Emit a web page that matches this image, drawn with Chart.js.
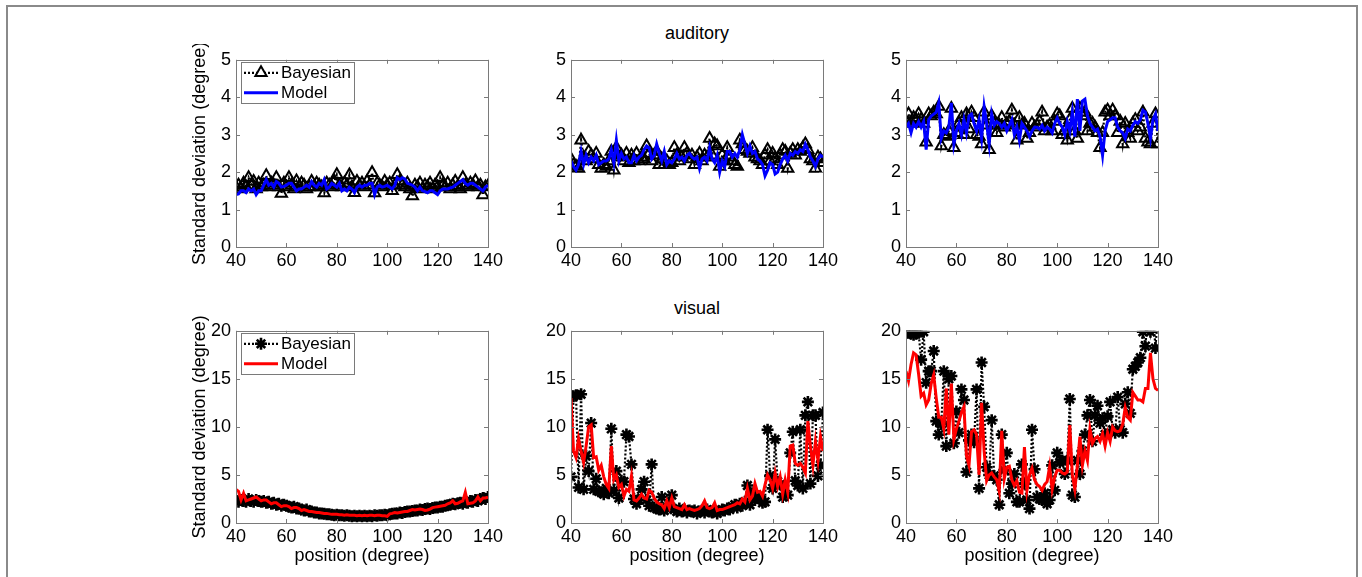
<!DOCTYPE html>
<html>
<head>
<meta charset="utf-8">
<script src="https://cdn.jsdelivr.net/npm/chart.js@4.4.1/dist/chart.umd.min.js"></script>
<style>
  body { margin: 0; width: 1362px; height: 577px; background: #fff; position: relative; overflow: hidden;
         font-family: "Liberation Sans", Arial, sans-serif; }
  #frame { position: absolute; left: 6px; top: 5px; width: 1348px; height: 590px; border: 2px solid #8a8a8a; border-bottom: none; }
  .panel { position: absolute; }
  .title { position: absolute; width: 252px; text-align: center; font-size: 18px; line-height: 20px; color: #000; }
</style>
</head>
<body>
<div id="frame"></div>
<div class="title" style="left:571px; top:23px;">auditory</div>
<div class="title" style="left:571px; top:298px;">visual</div>
<canvas id="c1" class="panel"></canvas>
<canvas id="c2" class="panel"></canvas>
<canvas id="c3" class="panel"></canvas>
<canvas id="c4" class="panel"></canvas>
<canvas id="c5" class="panel"></canvas>
<canvas id="c6" class="panel"></canvas>
<script>
// ==================== Data ====================
const positions = [40,41,42,43,44,45,46,47,48,49,50,51,52,53,54,55,56,57,58,59,
  60,61,62,63,64,65,66,67,68,69,70,71,72,73,74,75,76,77,78,79,
  80,81,82,83,84,85,86,87,88,89,90,91,92,93,94,95,96,97,98,99,
  100,101,102,103,104,105,106,107,108,109,110,111,112,113,114,115,116,117,118,119,
  120,121,122,123,124,125,126,127,128,129,130,131,132,133,134,135,136,137,138,139,140];

const xTicks = [40, 60, 80, 100, 120, 140];
const audTicks = [0, 1, 2, 3, 4, 5];
const visTicks = [0, 5, 10, 15, 20];

// auditory, panel 1
const audBayes1 = [1.60,1.65,1.55,1.70,1.60,1.85,1.65,1.75,1.55,1.70,
  1.60,1.65,1.90,1.60,1.70,1.65,1.85,1.60,1.43,1.70,
  1.60,1.85,1.65,1.55,1.76,1.60,1.70,1.65,1.55,1.60,
  1.75,1.60,1.70,1.65,1.60,1.44,1.70,1.65,1.60,1.75,
  1.93,1.65,1.60,1.70,1.65,1.92,1.60,1.45,1.75,1.65,
  1.70,1.60,1.75,1.65,1.98,1.44,1.70,1.65,1.60,1.75,
  1.65,1.70,1.50,1.65,1.93,1.75,1.65,1.60,1.70,1.55,
  1.36,1.65,1.60,1.70,1.55,1.65,1.60,1.70,1.55,1.65,
  1.60,1.85,1.65,1.60,1.70,1.55,1.65,1.75,1.60,1.55,
  1.85,1.65,1.60,1.70,1.65,1.76,1.60,1.65,1.39,1.60,1.63];
const audModel1 = [1.40,1.42,1.50,1.50,1.45,1.55,1.50,1.55,1.40,1.50,
  1.50,1.65,1.80,1.65,1.70,1.60,1.75,1.70,1.60,1.62,
  1.65,1.70,1.70,1.60,1.50,1.55,1.55,1.60,1.65,1.60,
  1.75,1.65,1.60,1.70,1.65,1.80,1.55,1.60,1.70,1.65,
  1.60,1.70,1.50,1.55,1.50,1.60,1.55,1.45,1.60,1.65,
  1.60,1.65,1.65,1.70,1.70,1.40,1.60,1.65,1.60,1.62,
  1.65,1.60,1.55,1.65,1.85,1.80,1.85,1.82,1.70,1.68,
  1.65,1.60,1.50,1.60,1.50,1.48,1.45,1.50,1.50,1.45,
  1.40,1.50,1.55,1.55,1.55,1.58,1.60,1.65,1.70,1.75,
  1.80,1.70,1.65,1.70,1.70,1.65,1.60,1.55,1.50,1.60,1.65];

// auditory, panel 2
const audBayes2 = [2.35,2.20,2.15,2.10,2.85,2.40,2.30,2.55,2.45,2.35,
  2.50,2.20,2.10,2.20,2.15,2.30,2.55,2.05,2.65,2.40,
  2.45,2.30,2.50,2.25,2.45,2.30,2.50,2.30,2.40,2.35,
  2.70,2.50,2.30,2.45,2.55,2.20,2.35,2.20,2.30,2.20,
  2.25,2.65,2.45,2.30,2.40,2.65,2.50,2.35,2.45,2.20,
  2.40,2.50,2.30,2.45,2.40,2.90,2.45,2.75,2.70,2.15,
  2.45,2.30,2.65,2.40,2.30,2.20,2.15,2.85,2.75,2.60,
  2.55,2.50,2.65,2.40,2.35,2.30,2.20,2.45,2.60,2.30,
  2.50,2.35,2.20,2.45,2.60,2.55,2.10,2.50,2.60,2.45,
  2.60,2.55,2.65,2.75,2.60,2.35,2.30,2.10,2.40,2.35,2.25];
const audModel2 = [2.30,2.15,2.05,2.20,2.55,2.20,2.45,2.25,2.40,2.30,
  2.45,2.20,2.25,2.30,2.30,2.35,2.60,2.25,2.85,2.30,
  2.50,2.35,2.40,2.25,2.25,2.45,2.30,2.40,2.45,2.60,
  2.70,2.65,2.35,2.45,2.75,2.50,2.30,2.55,2.20,2.30,
  2.25,2.35,2.50,2.35,2.40,2.30,2.45,2.50,2.40,2.35,
  2.40,2.10,2.35,2.40,2.30,2.65,2.35,2.25,2.45,2.00,
  2.30,2.15,2.55,2.55,2.40,2.50,2.40,2.60,3.00,2.75,
  2.50,2.70,2.50,2.55,2.35,2.30,2.20,1.90,2.05,2.25,
  2.20,1.95,2.00,2.20,2.35,2.45,2.30,2.50,2.45,2.55,
  2.50,2.60,2.55,2.75,2.60,2.40,2.30,2.15,2.35,2.45,2.40];

// auditory, panel 3
const audBayes3 = [3.35,3.55,3.30,3.45,3.40,3.55,3.40,3.30,2.80,3.55,
  3.50,3.60,3.55,3.75,2.70,3.00,2.95,3.10,3.70,2.65,
  3.05,3.30,3.45,3.00,3.55,3.15,3.60,3.45,3.00,2.95,
  2.75,3.60,3.25,2.60,3.50,3.30,3.05,3.25,3.45,3.20,
  3.30,3.35,3.65,3.25,2.85,3.45,3.25,3.30,2.90,3.05,
  3.30,3.20,3.25,3.35,3.60,3.10,3.20,3.25,3.10,3.35,
  3.55,3.50,3.00,3.10,2.85,3.40,3.70,3.10,2.90,3.70,
  3.50,3.60,3.10,3.30,3.30,3.20,3.05,2.65,3.05,3.60,
  3.65,3.50,3.65,3.50,3.05,3.35,2.75,3.30,3.05,2.90,
  3.30,3.40,3.10,3.20,3.60,2.90,2.80,2.75,3.30,3.55,2.75];
const audModel3 = [3.20,3.30,3.05,3.30,3.20,3.35,3.20,3.35,2.60,3.40,
  3.50,3.55,3.60,3.85,2.90,3.10,3.05,3.20,3.85,2.75,
  3.10,3.30,3.00,3.40,3.05,3.50,3.55,3.30,3.10,3.40,
  2.90,3.75,3.30,2.75,3.55,3.25,3.35,3.30,3.20,3.30,
  3.10,3.25,3.40,3.00,3.20,2.85,3.30,3.20,3.10,2.95,
  3.10,3.20,3.20,3.15,3.25,3.10,3.20,3.15,3.05,3.30,
  3.45,3.30,3.20,3.00,3.35,3.10,3.60,2.95,3.95,3.10,
  3.90,3.95,3.50,3.30,3.20,3.10,3.15,2.95,2.45,3.10,
  3.35,3.40,3.45,3.45,3.20,3.10,3.05,2.90,3.15,3.10,
  3.25,3.35,3.30,3.40,3.65,3.60,3.30,2.90,3.40,3.55,3.10];

// visual, panel 4
const visBayes1 = [2.3,2.2,2.4,2.3,2.2,2.5,2.3,2.2,2.4,2.3,
  2.2,2.3,2.1,2.2,2.0,2.1,1.9,2.0,1.8,1.9,
  1.8,1.7,1.6,1.7,1.5,1.5,1.4,1.3,1.4,1.2,
  1.2,1.1,1.1,1.0,1.0,0.95,0.9,0.9,0.85,0.8,
  0.85,0.8,0.8,0.75,0.8,0.75,0.7,0.75,0.7,0.75,
  0.7,0.75,0.7,0.75,0.7,0.8,0.75,0.8,0.8,0.85,
  0.8,0.9,0.95,1.0,1.0,1.1,1.05,1.15,1.2,1.2,
  1.25,1.3,1.3,1.4,1.35,1.45,1.5,1.45,1.55,1.6,
  1.6,1.7,1.7,1.8,1.85,1.9,2.0,1.95,2.05,2.1,
  2.0,2.2,2.1,2.3,2.2,2.4,2.3,2.5,2.6,2.5,2.7];
const visModel1 = [3.5,3.3,2.4,3.1,2.3,2.4,2.5,2.6,2.7,2.5,
  2.3,2.4,2.4,2.2,2.0,2.1,2.1,1.9,1.7,1.8,
  1.8,1.7,1.5,1.6,1.6,1.5,1.3,1.4,1.3,1.2,
  1.2,1.15,1.1,1.1,1.05,1.0,1.0,0.95,0.9,0.9,
  0.9,0.85,0.85,0.8,0.85,0.8,0.8,0.8,0.75,0.8,
  0.75,0.8,0.75,0.8,0.8,0.75,0.8,0.8,0.75,0.75,
  0.7,0.95,1.0,1.1,1.05,1.1,1.15,1.2,1.2,1.3,
  1.4,1.35,1.4,1.45,1.4,1.3,1.35,1.45,1.6,1.65,
  1.7,1.75,1.8,1.85,2.0,2.1,2.3,2.0,2.05,2.2,
  2.3,3.2,2.0,2.05,2.1,2.3,2.7,2.3,2.6,2.6,2.7];

// visual, panel 5
const visBayes2 = [4.8,13.2,13.3,3.7,13.4,3.5,7.0,5.4,10.4,3.5,
  4.6,3.3,3.2,3.0,3.6,3.1,9.8,3.4,5.4,2.6,
  4.4,4.3,9.2,9.0,6.1,2.5,2.0,2.4,3.5,4.3,
  2.4,1.8,6.1,1.6,1.5,1.4,2.7,1.3,1.5,2.0,
  2.9,1.4,1.2,1.5,1.2,1.4,1.1,1.3,1.2,1.3,
  1.0,1.2,1.3,1.1,1.4,1.2,1.1,1.3,1.0,1.2,
  1.4,1.3,1.5,1.4,1.7,1.9,1.6,2.0,1.8,2.2,
  3.9,1.9,3.1,2.4,2.8,2.5,2.1,2.2,9.7,4.9,
  3.6,8.7,4.3,4.0,2.7,3.0,2.9,7.3,9.5,4.4,
  3.9,9.7,3.6,11.2,12.6,4.1,11.2,11.2,4.9,6.0,11.5];
const visModel2 = [13.0,7.5,6.8,8.8,7.5,6.3,8.0,10.0,10.2,6.8,
  6.9,5.5,6.0,4.8,4.0,3.6,8.0,4.5,5.0,3.7,
  4.0,2.8,3.5,3.3,4.9,2.4,2.3,2.6,3.0,2.6,
  2.5,3.4,3.2,2.6,2.2,2.0,1.9,1.5,2.3,1.6,
  2.6,1.7,1.6,1.5,1.4,1.9,1.4,1.5,1.4,1.3,
  1.4,1.5,1.8,2.3,1.6,1.5,1.6,2.1,1.3,1.4,
  1.4,1.5,1.6,1.7,1.8,1.9,2.1,2.0,2.5,2.2,
  3.6,2.4,2.8,4.1,3.2,3.3,2.8,4.0,5.0,4.5,
  3.6,5.2,3.8,4.8,3.0,4.5,3.2,8.0,8.1,6.2,
  6.0,6.2,5.8,5.2,10.6,8.0,6.0,8.5,6.5,9.0,7.5];

// visual, panel 6
const visBayes3 = [19.8,19.8,19.7,19.6,19.7,19.8,17.0,19.9,14.6,15.8,
  15.8,17.9,10.6,9.2,10.3,15.8,8.0,15.0,15.3,8.3,
  11.6,9.4,13.9,12.8,5.3,8.6,9.2,8.4,13.9,3.6,
  16.7,12.1,5.8,5.0,10.7,4.9,4.5,1.9,9.2,5.5,
  7.3,3.1,4.1,5.1,2.2,2.2,6.1,4.1,2.4,1.5,
  9.7,5.6,2.7,2.5,2.4,3.1,2.0,2.4,6.0,3.4,
  7.3,6.3,6.5,5.1,6.5,12.9,2.9,2.7,6.5,5.1,
  7.5,9.2,11.2,12.8,8.5,11.2,12.2,10.4,10.9,9.2,
  11.1,12.6,9.7,9.4,13.1,9.7,9.4,12.4,13.6,11.4,
  16.0,16.3,16.7,17.2,19.9,18.4,22.0,19.9,22.0,18.2,22.0];
const visModel3 = [15.8,14.8,16.5,17.7,17.5,15.5,13.2,13.5,12.3,12.8,
  14.5,15.4,13.0,11.0,11.0,9.8,14.0,9.2,14.5,8.7,
  9.8,10.6,11.5,12.1,7.0,6.0,9.5,9.7,9.2,5.0,
  12.5,7.5,4.4,5.0,5.2,4.8,4.5,3.3,9.6,4.6,
  5.8,5.9,4.5,3.9,4.4,3.2,3.1,7.9,3.4,5.0,
  5.7,4.5,4.0,3.8,3.4,4.0,4.3,5.9,3.5,4.8,
  5.5,5.5,5.2,5.1,5.3,10.2,5.0,3.5,6.0,9.0,
  6.0,7.5,6.5,9.8,8.3,8.8,9.0,8.5,9.3,8.0,
  9.4,8.5,10.0,9.6,9.5,9.6,10.3,12.0,11.0,10.7,
  13.6,13.2,12.8,12.8,12.6,14.0,14.0,17.7,15.0,14.0,13.8];

// ==================== Layout ====================
const FONT = '"Liberation Sans", Arial, sans-serif';
const Y_AXIS_W = 51;
const PAD_TOP = 12, PAD_RIGHT = 22;
const AX_W = 252;

const panels = [
  { id: 'c1', axLeft: 236, axTop: 56,  axH: 191, yTicks: audTicks, bayes: audBayes1, model: audModel1, color: '#0000ff', marker: 'triangle', yTitle: 'Standard deviation (degree)', xTitle: '', legend: true },
  { id: 'c2', axLeft: 571, axTop: 56,  axH: 191, yTicks: audTicks, bayes: audBayes2, model: audModel2, color: '#0000ff', marker: 'triangle', yTitle: '', xTitle: '', legend: false },
  { id: 'c3', axLeft: 906, axTop: 56,  axH: 191, yTicks: audTicks, bayes: audBayes3, model: audModel3, color: '#0000ff', marker: 'triangle', yTitle: '', xTitle: '', legend: false },
  { id: 'c4', axLeft: 236, axTop: 327, axH: 196, yTicks: visTicks, bayes: visBayes1, model: visModel1, color: '#ff0000', marker: 'star', yTitle: 'Standard deviation (degree)', xTitle: 'position (degree)', legend: true },
  { id: 'c5', axLeft: 571, axTop: 327, axH: 196, yTicks: visTicks, bayes: visBayes2, model: visModel2, color: '#ff0000', marker: 'star', yTitle: '', xTitle: 'position (degree)', legend: false },
  { id: 'c6', axLeft: 906, axTop: 327, axH: 196, yTicks: visTicks, bayes: visBayes3, model: visModel3, color: '#ff0000', marker: 'star', yTitle: '', xTitle: 'position (degree)', legend: false }
];

// ==================== Plugins ====================
// MATLAB style box with inward tick marks, plus the boxed legend
const boxPlugin = {
  id: 'matlabBox',
  afterDatasetsDraw(chart) {
    const { ctx, chartArea: a, scales } = chart;
    ctx.save();
    ctx.strokeStyle = '#7a7a7a';
    ctx.lineWidth = 1;
    ctx.strokeRect(Math.round(a.left) + 0.5, Math.round(a.top) + 0.5, Math.round(a.right - a.left), Math.round(a.bottom - a.top));
    ctx.beginPath();
    scales.x.ticks.forEach(t => {
      const px = Math.round(scales.x.getPixelForValue(t.value)) + 0.5;
      ctx.moveTo(px, a.bottom); ctx.lineTo(px, a.bottom - 4);
      ctx.moveTo(px, a.top); ctx.lineTo(px, a.top + 4);
    });
    scales.y.ticks.forEach(t => {
      const py = Math.round(scales.y.getPixelForValue(t.value)) + 0.5;
      ctx.moveTo(a.left, py); ctx.lineTo(a.left + 4, py);
      ctx.moveTo(a.right, py); ctx.lineTo(a.right - 4, py);
    });
    ctx.stroke();
    ctx.restore();
  },
  afterDraw(chart, args, opts) {
    if (!opts.show) return;
    const { ctx, chartArea: a } = chart;
    const x0 = a.left + 5, y0 = a.top + 2, w = 113, h = 41;
    ctx.save();
    ctx.fillStyle = '#fff';
    ctx.fillRect(x0, y0, w, h);
    ctx.strokeStyle = '#7a7a7a';
    ctx.lineWidth = 1;
    ctx.strokeRect(Math.round(x0) + 0.5, Math.round(y0) + 0.5, w, h);
    chart.data.datasets.forEach((ds, i) => {
      const cy = y0 + 11 + i * 20;
      ctx.save();
      ctx.strokeStyle = ds.borderColor;
      ctx.lineWidth = ds.borderWidth;
      ctx.setLineDash(ds.borderDash || []);
      ctx.beginPath();
      ctx.moveTo(x0 + 3, cy); ctx.lineTo(x0 + 37, cy);
      ctx.stroke();
      ctx.setLineDash([]);
      if (ds.pointRadius > 0) {
        ctx.fillStyle = '#fff';
        ctx.lineWidth = ds.pointBorderWidth;
        Chart.helpers.drawPoint(ctx, { pointStyle: ds.pointStyle, radius: ds.pointRadius, borderWidth: ds.pointBorderWidth, rotation: 0 }, x0 + 20, cy);
      }
      ctx.restore();
      ctx.fillStyle = '#000';
      ctx.font = '17px ' + FONT;
      ctx.textBaseline = 'middle';
      ctx.fillText(ds.label, x0 + 40, cy + 1);
    });
    ctx.restore();
  }
};

function toPoints(values) {
  return positions.map((p, i) => ({ x: p, y: values[i] }));
}

// ==================== Charts ====================
panels.forEach(p => {
  const xH = p.xTitle ? 48 : 30;
  const cw = Y_AXIS_W + AX_W + PAD_RIGHT;
  const chh = PAD_TOP + p.axH + xH;
  const canvas = document.getElementById(p.id);
  canvas.width = cw; canvas.height = chh;
  canvas.style.left = (p.axLeft - Y_AXIS_W) + 'px';
  canvas.style.top = (p.axTop - PAD_TOP) + 'px';
  canvas.style.width = cw + 'px';
  canvas.style.height = chh + 'px';

  const yMax = p.yTicks[p.yTicks.length - 1];
  const yStep = p.yTicks[1] - p.yTicks[0];
  const isStar = p.marker === 'star';

  new Chart(canvas.getContext('2d'), {
    type: 'line',
    data: {
      datasets: [{
        label: 'Bayesian',
        data: toPoints(p.bayes),
        borderColor: '#000',
        borderWidth: 2.2,
        borderDash: [2, 2],
        pointStyle: p.marker,
        pointRadius: isStar ? 6 : 6.5,
        pointBorderWidth: isStar ? 2.6 : 2,
        pointBorderColor: '#000',
        pointBackgroundColor: 'rgba(255,255,255,0)',
        tension: 0,
        order: 2
      }, {
        label: 'Model',
        data: toPoints(p.model),
        borderColor: p.color,
        borderWidth: 3,
        pointRadius: 0,
        tension: 0,
        order: 1
      }]
    },
    options: {
      responsive: false,
      animation: false,
      devicePixelRatio: 1,
      layout: { padding: { top: PAD_TOP, right: PAD_RIGHT, left: 0, bottom: 0 } },
      plugins: {
        legend: { display: false },
        tooltip: { enabled: false },
        matlabBox: { show: p.legend }
      },
      scales: {
        x: {
          type: 'linear',
          min: 40, max: 140,
          afterBuildTicks: s => { s.ticks = xTicks.map(v => ({ value: v })); },
          ticks: { color: '#000', padding: 3, maxRotation: 0, font: { size: 18, family: FONT } },
          grid: { display: false, drawTicks: false },
          border: { display: false },
          title: { display: !!p.xTitle, text: p.xTitle, color: '#000', font: { size: 18, family: FONT }, padding: { top: 0, bottom: 4 } },
          afterFit: s => { s.height = xH; }
        },
        y: {
          min: 0, max: yMax,
          afterBuildTicks: s => { s.ticks = p.yTicks.map(v => ({ value: v })); },
          ticks: { color: '#000', padding: 5, stepSize: yStep, font: { size: 18, family: FONT } },
          grid: { display: false, drawTicks: false },
          border: { display: false },
          title: { display: !!p.yTitle, text: p.yTitle, color: '#000', font: { size: 18, family: FONT }, padding: { top: 4, bottom: 0 } },
          afterFit: s => { s.width = Y_AXIS_W; }
        }
      }
    },
    plugins: [boxPlugin]
  });
});
</script>
</body>
</html>
